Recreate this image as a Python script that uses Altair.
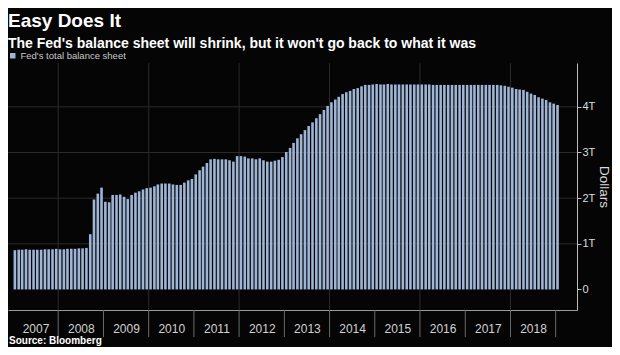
import altair as alt
import pandas as pd

# ---- data (trillions of dollars, monthly, Jan 2007 - Jan 2019) ----
v2007 = [0.86, 0.87, 0.87, 0.88, 0.87, 0.87, 0.87, 0.87, 0.88, 0.88, 0.88, 0.89]
v2008 = [0.88, 0.88, 0.89, 0.89, 0.89, 0.90, 0.90, 0.91, 1.21, 1.97, 2.10, 2.23]
v2009 = [1.92, 1.91, 2.07, 2.07, 2.08, 2.03, 1.98, 2.07, 2.12, 2.15, 2.19, 2.22]
v2010 = [2.23, 2.26, 2.30, 2.32, 2.32, 2.32, 2.30, 2.29, 2.29, 2.34, 2.39, 2.42]
v2011 = [2.52, 2.61, 2.69, 2.77, 2.85, 2.86, 2.85, 2.85, 2.85, 2.83, 2.80, 2.92]
v2012 = [2.92, 2.91, 2.87, 2.87, 2.85, 2.87, 2.83, 2.80, 2.80, 2.82, 2.84, 2.90]
v2013 = [3.01, 3.10, 3.21, 3.31, 3.40, 3.49, 3.58, 3.66, 3.75, 3.84, 3.93, 4.02]
v2014 = [4.10, 4.16, 4.22, 4.28, 4.32, 4.35, 4.39, 4.41, 4.45, 4.48, 4.48, 4.49]
v2015 = [4.50, 4.49, 4.49, 4.50, 4.49, 4.49, 4.49, 4.49, 4.49, 4.49, 4.49, 4.49]
v2016 = [4.49, 4.49, 4.49, 4.48, 4.48, 4.48, 4.48, 4.48, 4.48, 4.48, 4.48, 4.48]
v2017 = [4.48, 4.48, 4.48, 4.48, 4.48, 4.48, 4.48, 4.48, 4.48, 4.47, 4.46, 4.44]
v2018 = [4.42, 4.39, 4.38, 4.37, 4.33, 4.29, 4.26, 4.21, 4.18, 4.15, 4.10, 4.07]
v2019 = [4.04]

values = (v2007 + v2008 + v2009 + v2010 + v2011 + v2012 + v2013 + v2014
          + v2015 + v2016 + v2017 + v2018 + v2019)
year_labels = list(range(2007, 2019))
divider_years = list(range(2008, 2020))
grid_years = [2008, 2010, 2012, 2014, 2016, 2018]
y_grid = [1, 2, 3, 4]
series_name = "Fed's total balance sheet"
source_text = "Source: Bloomberg"

# ---- tables ----
months = pd.date_range("2007-01-01", periods=len(values), freq="MS")
bars_df = pd.DataFrame({
    "date": (months + pd.Timedelta(days=15)).strftime("%Y-%m-%d"),
    "value": values,
    "series": series_name,
})
div_df = pd.DataFrame({"date": [f"{y}-01-01" for y in divider_years]})
vgrid_df = pd.DataFrame({"date": [f"{y}-01-01" for y in grid_years]})
hgrid_df = pd.DataFrame({"value": y_grid})
src_df = pd.DataFrame({"t": [source_text]})

W, H = 569, 247
BAR = "#9fb5d6"
FONT = "Liberation Sans"

xscale = alt.Scale(domain=[alt.DateTime(year=2007, month=1, date=1),
                           alt.DateTime(year=2019, month=5, date=13)])
yscale = alt.Scale(domain=[-0.45, 4.96], nice=False, zero=False)

vgrid = alt.Chart(vgrid_df).mark_rule(color="#2b2b2b", strokeWidth=1).encode(
    x=alt.X("date:T", scale=xscale),
    y=alt.value(0), y2=alt.value(H),
)
hgrid = alt.Chart(hgrid_df).mark_rule(color="#2b2b2b", strokeWidth=1).encode(
    y=alt.Y("value:Q", scale=yscale),
    x=alt.value(0), x2=alt.value(W),
)

bars = alt.Chart(bars_df).mark_bar(size=2.6).encode(
    x=alt.X("date:T", scale=xscale,
            axis=alt.Axis(values=[alt.DateTime(year=y, month=7, date=2) for y in year_labels],
                          format="%Y", ticks=False, grid=False,
                          domainColor="#9a9a9a", labelColor="#d2d2d2",
                          labelFont=FONT, labelFontSize=12, labelPadding=13,
                          labelAlign="center", title=None)),
    y=alt.Y("value:Q", scale=yscale,
            axis=alt.Axis(orient="right", values=[i * 0.5 for i in range(10)],
                          labelExpr="datum.value % 1 != 0 ? '' : (datum.value == 0 ? '0' : datum.value + 'T')",
                          grid=False, tickSize=4, tickColor="#bdbdbd",
                          domainColor="#bdbdbd", labelColor="#dcdcdc",
                          labelFont=FONT, labelFontSize=11, labelPadding=1,
                          title="Dollars", titleColor="#dcdcdc", titleFont=FONT,
                          titleFontSize=13.5, titleFontWeight="normal",
                          titleAngle=90, titlePadding=2)),
    color=alt.Color("series:N",
                    scale=alt.Scale(domain=[series_name], range=[BAR]),
                    legend=alt.Legend(orient="none", legendX=0, legendY=-12,
                                      title=None, symbolType="square",
                                      symbolSize=30, symbolStrokeWidth=0,
                                      labelColor="#c8c8c8", labelFont=FONT,
                                      labelFontSize=9.5, labelOffset=3)),
)

dividers = alt.Chart(div_df).mark_rule(color="#6a6a6a", strokeWidth=1).encode(
    x=alt.X("date:T", scale=xscale),
    y=alt.value(H), y2=alt.value(H + 27),
)

source = alt.Chart(src_df).mark_text(
    align="left", baseline="alphabetic", color="#ffffff",
    font=FONT, fontSize=10, fontWeight="bold",
).encode(text="t:N", x=alt.value(1), y=alt.value(H + 34))

chart = alt.layer(vgrid, hgrid, bars, dividers, source).properties(
    width=W, height=H,
    background="#050505",
    autosize=alt.AutoSizeParams(type="none"),
    padding={"left": 0, "top": 55, "right": 35, "bottom": 37},
    title=alt.TitleParams(
        text="Easy Does It",
        subtitle="The Fed's balance sheet will shrink, but it won't go back to what it was",
        anchor="start", frame="group", dx=0, offset=0,
        color="#ffffff", font=FONT, fontSize=19, fontWeight="bold",
        subtitleColor="#ffffff", subtitleFont=FONT, subtitleFontSize=14,
        subtitleFontWeight="bold", subtitlePadding=6,
    ),
).configure_view(stroke=None)

chart.save("out.html", embed_options={"renderer": "svg", "actions": False})
